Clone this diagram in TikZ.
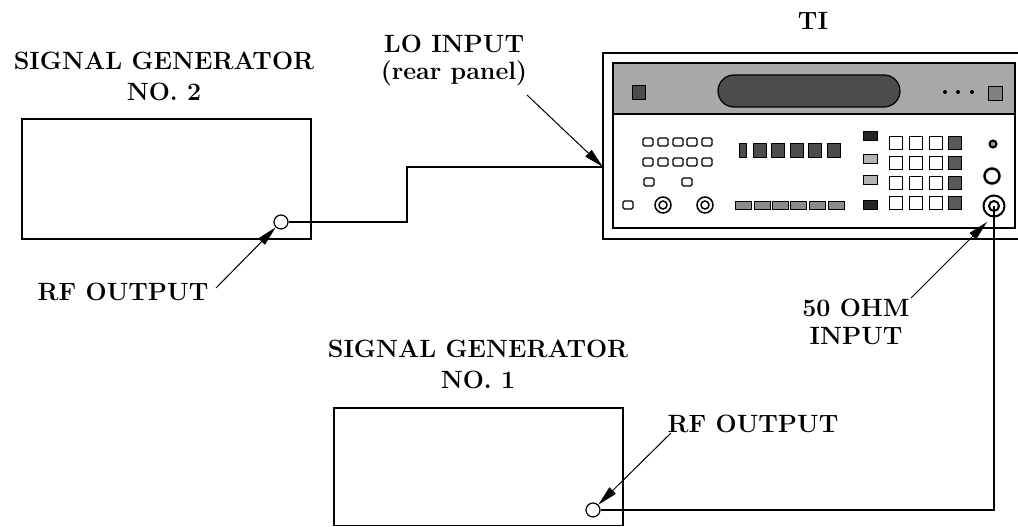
\documentclass[tikz,border=0pt]{standalone}
\usepackage{fontspec}
\usepackage{tikz}
\usetikzlibrary{calc,arrows.meta}
\usepackage{xcolor}
\definecolor{bandgray}{gray}{0.66}
\definecolor{grillgray}{gray}{0.30}
\newcommand{\tikey}[3]{\draw[line width=1.3pt,rounded corners=1.5pt] ($(#1)+(#2-5,#3-4)$) rectangle ($(#1)+(#2+5,#3+4)$);}
\newcommand{\tidig}[4]{\draw[line width=0.8pt,fill=black!70] ($(#1)+(#2-#4,#3-7)$) rectangle ($(#1)+(#2+#4,#3+7)$);}
\newcommand{\tibar}[3]{\draw[line width=0.8pt,fill=black!45] ($(#1)+(#2-8,#3-4)$) rectangle ($(#1)+(#2+8,#3+4)$);}
\newcommand{\tisq}[4]{\draw[line width=1.2pt,fill=#4] ($(#1)+(#2-6.5,#3-6.5)$) rectangle ($(#1)+(#2+6.5,#3+6.5)$);}
\newcommand{\titag}[4]{\draw[line width=0.8pt,fill=#4] ($(#1)+(#2-7,#3-4.5)$) rectangle ($(#1)+(#2+7,#3+4.5)$);}
\newcommand{\tiknob}[4]{\draw[line width=1.5pt] ($(#1)+(#2,#3)$) circle[radius=#4] circle[radius=#4/2];}

\begin{document}
\begin{tikzpicture}[x=1pt,y=-1pt,
	lbl/.style={font=\fontsize{25}{31}\selectfont\bfseries,align=center,anchor=base,inner sep=0pt},
	cable/.style={line width=1.6pt},
	ptr/.style={line width=1pt,-{Triangle[length=20pt,width=9pt]}},
	jack/.style={circle,draw,line width=1.2pt,minimum size=14pt,inner sep=0pt,fill=white}]

	\useasboundingbox (0,0) rectangle (1018,527);
	\coordinate (O) at (0,0);

	% signal generators
	\draw[line width=1.6pt] (22,119) rectangle (311,239);
	\draw[line width=1.6pt] (334,408) rectangle (623,525.5);

	\node[lbl] (sgtwolbl) at (164,100) {SIGNAL GENERATOR\\NO. 2};
	\node[lbl] (sgonelbl) at (478,388) {SIGNAL GENERATOR\\NO. 1};
	\node[lbl,font=\fontsize{25}{28}\selectfont\bfseries] (lolbl) at (454,80) {LO INPUT\\(rear panel)};
	\node[lbl] (tilbl) at (813,30) {TI};
	\node[lbl] (rftwolbl) at (123,300) {RF OUTPUT};
	\node[lbl,font=\fontsize{25}{28}\selectfont\bfseries] (ohmlbl) at (856,344) {50 OHM\\INPUT};
	\node[lbl] (rfonelbl) at (753,432) {RF OUTPUT};

	% TI front panel
	\draw[line width=2.5pt] (1018,53) -- (603,53) -- (603,239) -- (1018,239);
	\draw[line width=1.2pt,fill=bandgray] (613,63) rectangle (1015,114);
	\draw[line width=1.2pt] (613,63) rectangle (1015,228);
	\draw[line width=1.2pt,fill=grillgray,rounded corners=16pt] (718,75) rectangle (900,107);
	\draw[fill=black!70] (632,85) rectangle (645,99);
	\fill (945,92) circle[radius=2] (958,92) circle[radius=2] (972,92) circle[radius=2];
	\draw[fill=black!50] (988,86) rectangle (1002,100);

	\tikey{O}{648}{142}
	\tikey{O}{663}{142}
	\tikey{O}{678}{142}
	\tikey{O}{692}{142}
	\tikey{O}{707}{142}
	\tikey{O}{648}{162}
	\tikey{O}{663}{162}
	\tikey{O}{678}{162}
	\tikey{O}{692}{162}
	\tikey{O}{707}{162}
	\tikey{O}{649}{182}
	\tikey{O}{687}{182}
	\tikey{O}{628}{205}
	\tiknob{O}{663}{205}{8}
	\tiknob{O}{705}{205}{8}

	\tidig{O}{743}{150}{3.5}
	\tidig{O}{760}{150}{6.5}
	\tidig{O}{778}{150}{6.5}
	\tidig{O}{797}{150}{6.5}
	\tidig{O}{815}{150}{6.5}
	\tidig{O}{834}{150}{6.5}

	\tibar{O}{743}{205}
	\tibar{O}{762}{205}
	\tibar{O}{780}{205}
	\tibar{O}{798}{205}
	\tibar{O}{817}{205}
	\tibar{O}{836}{205}

	\titag{O}{870}{136}{black!85}
	\titag{O}{870}{159}{black!30}
	\titag{O}{870}{180}{black!30}
	\titag{O}{870}{205}{black!85}

	\tisq{O}{896}{143}{white}
	\tisq{O}{916}{143}{white}
	\tisq{O}{936}{143}{white}
	\tisq{O}{955}{143}{black!65}
	\tisq{O}{896}{163}{white}
	\tisq{O}{916}{163}{white}
	\tisq{O}{936}{163}{white}
	\tisq{O}{955}{163}{black!65}
	\tisq{O}{896}{183}{white}
	\tisq{O}{916}{183}{white}
	\tisq{O}{936}{183}{white}
	\tisq{O}{955}{183}{black!65}
	\tisq{O}{896}{203}{white}
	\tisq{O}{916}{203}{white}
	\tisq{O}{936}{203}{white}
	\tisq{O}{955}{203}{black!65}

	\draw[line width=2pt,fill=black!40] (993,144) circle[radius=3.5];
	\draw[line width=2.5pt] (992,176) circle[radius=7.5];
	\node[circle,draw,line width=2pt,minimum size=21pt,inner sep=0pt] (ohmin) at (994,206) {};
	\draw[line width=2pt] (ohmin.center) circle[radius=5];

	% cables
	\node[jack] (jacktwo) at (281,222) {};
	\node[jack] (jackone) at (593,510) {};
	\coordinate (loin) at (603,167);
	\draw[cable] (jacktwo.east) -- (407,222) -- (407,167) -- (loin);
	\draw[cable] (ohmin.center) -- (ohmin.center |- jackone) -- (jackone.east);

	% pointers
	\coordinate (lotail) at (527,95);
	\coordinate (rftwotail) at (216,288);
	\coordinate (ohmtail) at (911,298);
	\coordinate (ohmtip) at (987,222);
	\coordinate (rfonetail) at (671,433);
	\draw[ptr] (lotail) -- (loin);
	\draw[ptr] (rftwotail) -- (jacktwo.south west);
	\draw[ptr] (ohmtail) -- (ohmtip);
	\draw[ptr] (rfonetail) -- (jackone.north east);
\end{tikzpicture}
\end{document}
